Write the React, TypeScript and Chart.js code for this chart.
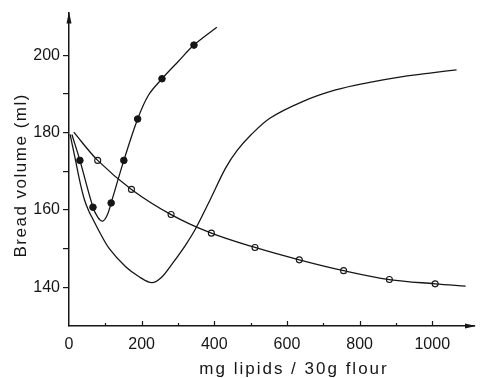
import React, { useEffect, useRef } from "react";
import { Chart, registerables } from "chart.js";

Chart.register(...registerables);

// Axis ranges and labels
const X_MIN = 0;
const X_MAX = 1115;
const Y_MIN = 130;
const Y_MAX = 211;
const xTickLabels = [0, 200, 400, 600, 800, 1000];
const yTickLabels = [140, 160, 180, 200];
const xTitle = "mg lipids / 30g flour";
const yTitle = "Bread volume (ml)";

// Series 1: filled markers (measured points)
const filledX = [30, 66, 116, 151, 189, 256, 344];
const filledY = [172.8, 160.7, 161.8, 172.8, 183.5, 193.9, 202.6];
// Series 1 fitted curve
const filledCurveX = [8, 30, 66, 80, 93, 105, 116, 151, 189, 219, 256, 300, 344, 407];
const filledCurveY = [179.5, 172.8, 160.7, 158.0, 157.1, 158.6, 161.8, 172.8, 183.5, 189.7, 193.9, 198.3, 202.6, 207.2];

// Series 2: open markers (measured points)
const openX = [79, 172, 281, 392, 512, 634, 756, 882, 1008];
const openY = [172.8, 165.3, 158.8, 154.0, 150.3, 147.1, 144.3, 142.0, 140.9];
// Series 2 fitted curve
const openCurveX = [13, 79, 172, 281, 392, 512, 634, 756, 882, 1008, 1092];
const openCurveY = [180.1, 172.8, 165.3, 158.8, 154.0, 150.3, 147.1, 144.3, 142.0, 140.9, 140.3];

// Series 3: curve without markers
const plainCurveX = [3, 18, 30, 43, 55, 66, 84, 111, 156, 192, 228, 255, 285, 320, 350, 391, 431, 463, 500, 553, 643, 734, 824, 914, 1004, 1067];
const plainCurveY = [179.5, 172.8, 167.3, 162.5, 159.6, 157.6, 154.3, 150.0, 145.3, 142.8, 141.2, 142.6, 146.2, 150.8, 155.4, 163.1, 170.8, 175.4, 179.3, 183.7, 188.0, 191.0, 192.9, 194.4, 195.5, 196.2];

const INK = "#161616";
const FONT = '"Liberation Sans", Arial, sans-serif';

const toPts = (xs: number[], ys: number[]) => xs.map((x, i) => ({ x, y: ys[i] }));

const decorPlugin = {
  id: "decor",
  afterDraw(chart: any) {
    const { ctx, chartArea } = chart;
    const { left, right, top, bottom } = chartArea;
    const xs = chart.scales.x;
    ctx.save();
    ctx.strokeStyle = INK;
    ctx.fillStyle = INK;
    ctx.lineWidth = 1.2;
    // inward x ticks
    for (let v = 100; v <= 1000; v += 100) {
      const px = Math.round(xs.getPixelForValue(v)) + 0.5;
      ctx.beginPath();
      ctx.moveTo(px, bottom);
      ctx.lineTo(px, bottom - (v % 200 === 0 ? 5 : 3));
      ctx.stroke();
    }
    // arrow heads
    ctx.beginPath();
    ctx.moveTo(left, top - 1);
    ctx.lineTo(left - 2.5, top + 11);
    ctx.lineTo(left + 2.5, top + 11);
    ctx.closePath();
    ctx.fill();
    ctx.beginPath();
    ctx.moveTo(right + 2, bottom);
    ctx.lineTo(right - 9, bottom - 2.5);
    ctx.lineTo(right - 9, bottom + 2.5);
    ctx.closePath();
    ctx.fill();
    // axis titles
    ctx.font = "17px " + FONT;
    ctx.textBaseline = "alphabetic";
    ctx.textAlign = "center";
    (ctx as any).letterSpacing = "2px";
    ctx.fillText(xTitle, left + 225, 374);
    (ctx as any).letterSpacing = "1.5px";
    ctx.translate(25.5, (top + bottom) / 2 + 6);
    ctx.rotate(-Math.PI / 2);
    ctx.fillText(yTitle, 0, 0);
    ctx.restore();
  },
};

export default function App() {
  const ref = useRef<HTMLCanvasElement | null>(null);
  useEffect(() => {
    if (!ref.current) return;
    const lineStyle = {
      showLine: true,
      pointRadius: 0,
      pointHoverRadius: 0,
      borderColor: INK,
      borderWidth: 1.3,
      tension: 0.35,
      fill: false,
    };
    const chart = new Chart(ref.current, {
      type: "scatter",
      data: {
        datasets: [
          { ...lineStyle, data: toPts(filledCurveX, filledCurveY) },
          { ...lineStyle, data: toPts(plainCurveX, plainCurveY) },
          { ...lineStyle, data: toPts(openCurveX, openCurveY) },
          {
            showLine: false,
            data: toPts(filledX, filledY),
            pointRadius: 3.3,
            pointBackgroundColor: INK,
            pointBorderColor: INK,
            pointBorderWidth: 1,
          },
          {
            showLine: false,
            data: toPts(openX, openY),
            pointRadius: 3,
            pointBackgroundColor: "#ffffff",
            pointBorderColor: INK,
            pointBorderWidth: 1.1,
          },
        ],
      },
      options: {
        responsive: true,
        maintainAspectRatio: false,
        animation: false,
        events: [],
        layout: { padding: { top: 10, right: 2, left: 0, bottom: 0 } },
        plugins: { legend: { display: false }, tooltip: { enabled: false } },
        scales: {
          x: {
            type: "linear",
            min: X_MIN,
            max: X_MAX,
            afterFit: (s: any) => {
              s.height = 52;
            },
            ticks: {
              stepSize: 100,
              autoSkip: false,
              maxRotation: 0,
              padding: 9,
              color: INK,
              font: { family: FONT, size: 16 },
              callback: (v: any) => (xTickLabels.includes(Number(v)) ? String(v) : ""),
            },
            grid: { display: true, drawOnChartArea: false, drawTicks: false },
            border: { display: true, color: INK, width: 1.5 },
          },
          y: {
            type: "linear",
            min: Y_MIN,
            max: Y_MAX,
            afterFit: (s: any) => {
              s.width = 69;
            },
            ticks: {
              stepSize: 10,
              autoSkip: false,
              padding: 3,
              color: INK,
              font: { family: FONT, size: 16 },
              callback: (v: any) => (yTickLabels.includes(Number(v)) ? String(v) : ""),
            },
            grid: {
              drawOnChartArea: false,
              drawTicks: true,
              tickLength: 6,
              lineWidth: 1.2,
              color: (c: any) => {
                const v = c.tick ? c.tick.value : 0;
                return v % 10 === 0 && v > Y_MIN && v < 210 ? INK : "rgba(0,0,0,0)";
              },
            },
            border: { display: true, color: INK, width: 1.5 },
          },
        },
      },
      plugins: [decorPlugin],
    });
    return () => chart.destroy();
  }, []);
  return (
    <div style={{ position: "fixed", left: 0, top: 0, width: 483, height: 378, background: "#fff" }}>
      <canvas ref={ref} />
    </div>
  );
}
